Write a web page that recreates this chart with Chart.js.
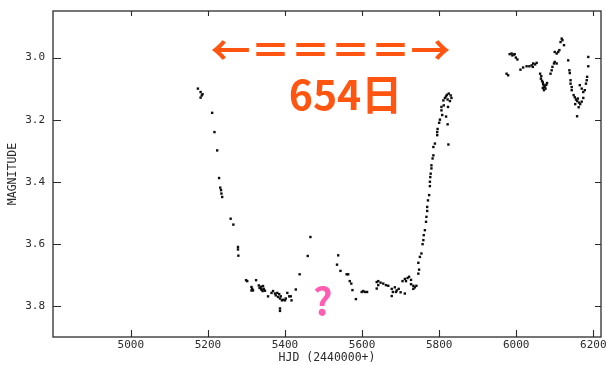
<!DOCTYPE html>
<html>
<head>
<meta charset="utf-8">
<script src="https://cdn.jsdelivr.net/npm/chart.js@4.4.1/dist/chart.umd.min.js"></script>
<style>
  html, body { margin: 0; padding: 0; background: #ffffff; }
  #wrap { width: 606px; height: 365px; }
</style>
</head>
<body>
<div id="wrap"><canvas id="lc" width="606" height="365"></canvas></div>
<script>
// Heliocentric Julian Date minus 2440000
const hjd = [
  5174, 5181, 5186, 5181, 5184,
  5211, 5217, 5224, 5229, 5232, 5234, 5235, 5237, 5259, 5266, 5278, 5278, 5279,
  5299, 5302, 5313, 5315, 5317, 5313, 5325,
  5332, 5334, 5338, 5340, 5343, 5345, 5348, 5342, 5338, 5356,
  5365, 5369, 5374, 5376, 5380, 5382, 5385, 5387, 5389, 5392, 5395, 5400, 5402, 5406, 5411, 5415, 5417,
  5387, 5387, 5428,
  5438, 5459, 5466,
  5538, 5535, 5544, 5560, 5564, 5568, 5572, 5575, 5584,
  5599, 5603, 5607, 5613,
  5638, 5642, 5648, 5655, 5662, 5668, 5638, 5642,
  5677, 5685, 5690, 5695, 5680, 5677, 5688, 5700, 5711,
  5705, 5711, 5718, 5722, 5714, 5727, 5733, 5737, 5733, 5741, 5727,
  5746, 5748, 5746, 5750, 5754, 5757, 5759, 5760, 5763, 5766, 5767, 5769, 5769, 5771, 5774,
  5776, 5776, 5777, 5778, 5780, 5780, 5783, 5785, 5785, 5789, 5795, 5795, 5796, 5824,
  5800, 5802, 5806, 5808, 5818, 5822, 5806, 5812, 5823, 5811, 5815, 5820, 5825, 5830, 5832, 5828, 5818, 5822,
  5975, 5979, 5983, 5990, 5996, 5999, 6003, 5988, 5994,
  6011, 6018, 6027, 6034, 6040, 6044, 6049, 6053, 6043,
  6062, 6065, 6064, 6067, 6069, 6070, 6072, 6074, 6069, 6076, 6072, 6078, 6080,
  6089, 6092, 6094, 6098, 6100, 6105,
  6100, 6105, 6109, 6112, 6115, 6118, 6120, 6124,
  6135, 6138, 6139, 6141, 6141, 6144, 6144,
  6149, 6152, 6155, 6158, 6160, 6163, 6166, 6170, 6174, 6153, 6162, 6158,
  6165, 6170, 6174, 6178, 6181, 6183, 6184, 6187, 6187
];

// V magnitude for each date above
const mag = [
  3.100, 3.111, 3.118, 3.129, 3.122,
  3.178, 3.240, 3.299, 3.388, 3.419, 3.427, 3.438, 3.449, 3.519, 3.538, 3.610, 3.618, 3.638,
  3.717, 3.720, 3.739, 3.745, 3.750, 3.750, 3.717,
  3.734, 3.742, 3.738, 3.748, 3.736, 3.745, 3.751, 3.752, 3.746, 3.769,
  3.758, 3.752, 3.760, 3.766, 3.758, 3.771, 3.762, 3.776, 3.769, 3.782, 3.780, 3.782, 3.776, 3.758, 3.769, 3.769, 3.782,
  3.808, 3.816, 3.747,
  3.698, 3.639, 3.578,
  3.637, 3.667, 3.687, 3.698, 3.698, 3.720, 3.728, 3.749, 3.778,
  3.755, 3.752, 3.755, 3.755,
  3.723, 3.720, 3.725, 3.728, 3.733, 3.735, 3.744, 3.733,
  3.745, 3.740, 3.750, 3.745, 3.755, 3.768, 3.755, 3.756, 3.760,
  3.720, 3.713, 3.710, 3.706, 3.720, 3.716, 3.735, 3.740, 3.745, 3.735, 3.730,
  3.696, 3.683, 3.661, 3.642, 3.631, 3.601, 3.588, 3.572, 3.556, 3.529, 3.513, 3.494, 3.481, 3.460, 3.443,
  3.414, 3.400, 3.385, 3.374, 3.357, 3.347, 3.325, 3.315, 3.288, 3.277, 3.250, 3.240, 3.230, 3.280,
  3.210, 3.200, 3.170, 3.185, 3.190, 3.215, 3.159, 3.154, 3.159, 3.138, 3.130, 3.120, 3.116, 3.122, 3.130, 3.140, 3.125, 3.135,
  3.052, 3.057, 2.989, 2.993, 2.989, 3.000, 3.006, 2.987, 2.990,
  3.039, 3.032, 3.028, 3.028, 3.025, 3.019, 3.022, 3.017, 3.030,
  3.052, 3.060, 3.068, 3.075, 3.080, 3.086, 3.090, 3.095, 3.098, 3.100, 3.105, 3.088, 3.082,
  3.052, 3.041, 3.030, 3.019, 3.014, 3.019,
  2.982, 2.987, 2.982, 2.976, 2.950, 2.939, 2.944, 2.960,
  3.009, 3.041, 3.050, 3.073, 3.084, 3.095, 3.105,
  3.121, 3.128, 3.135, 3.140, 3.132, 3.145, 3.150, 3.142, 3.130, 3.150, 3.160, 3.189,
  3.089, 3.100, 3.111, 3.105, 3.084, 3.073, 3.062, 2.998, 3.028
];

const xTicks = [5000, 5200, 5400, 5600, 5800, 6000, 6200];
const yTicks = [3.0, 3.2, 3.4, 3.6, 3.8];

const xTitle = 'HJD (2440000+)';
const yTitle = 'MAGNITUDE';

// Annotation texts and the data positions they sit at
const spanArrow = '←＝＝＝＝→';
const spanArrowAt = [5518, 2.975];
const spanLabel = '654日';
const spanLabelAt = [5557, 3.118];
const gapMark = '?';
const gapMarkAt = [5498, 3.785];

const points = hjd.map((d, i) => ({ x: d, y: mag[i] }));

const monoFont = '"DejaVu Sans Mono", "Liberation Mono", monospace';
const inkColor = '#2b2b2b';

// Frame on all four sides, inward tick marks, and text annotations
const framePlugin = {
  id: 'framePlugin',
  afterDatasetsDraw(chart) {
    const { ctx, chartArea: a, scales: { x, y } } = chart;
    ctx.save();
    ctx.strokeStyle = inkColor;
    ctx.lineWidth = 1.3;
    ctx.strokeRect(a.left, a.top, a.right - a.left, a.bottom - a.top);
    ctx.lineWidth = 1.1;
    ctx.beginPath();
    x.ticks.forEach(t => {
      const px = Math.round(x.getPixelForValue(t.value)) + 0.5;
      ctx.moveTo(px, a.bottom); ctx.lineTo(px, a.bottom - 7);
      ctx.moveTo(px, a.top); ctx.lineTo(px, a.top + 5);
    });
    y.ticks.forEach(t => {
      const py = Math.round(y.getPixelForValue(t.value)) + 0.5;
      ctx.moveTo(a.left, py); ctx.lineTo(a.left + 8, py);
      ctx.moveTo(a.right, py); ctx.lineTo(a.right - 6, py);
    });
    ctx.stroke();

    ctx.textAlign = 'center';
    ctx.textBaseline = 'middle';
    ctx.fillStyle = '#ff5511';
    ctx.font = 'bold 40px "Noto Sans CJK JP"';
    ctx.fillText(spanArrow, x.getPixelForValue(spanArrowAt[0]), y.getPixelForValue(spanArrowAt[1]));
    ctx.font = 'bold 41px "Noto Sans CJK JP"';
    ctx.fillText(spanLabel, x.getPixelForValue(spanLabelAt[0]), y.getPixelForValue(spanLabelAt[1]));
    ctx.fillStyle = '#ff5cb2';
    ctx.font = 'bold 38px "Noto Sans CJK JP"';
    ctx.fillText(gapMark, x.getPixelForValue(gapMarkAt[0]), y.getPixelForValue(gapMarkAt[1]));
    ctx.restore();
  }
};

new Chart(document.getElementById('lc'), {
  type: 'scatter',
  data: {
    datasets: [{
      data: points,
      pointStyle: 'rect',
      pointRadius: 1.7,
      pointBorderWidth: 0,
      backgroundColor: '#0d0d0d',
      borderColor: '#0d0d0d'
    }]
  },
  options: {
    responsive: false,
    animation: false,
    devicePixelRatio: 1,
    layout: { padding: { top: 11, right: 5, left: 0, bottom: 0 } },
    plugins: {
      legend: { display: false },
      tooltip: { enabled: false }
    },
    scales: {
      x: {
        type: 'linear',
        min: 4798,
        max: 6220,
        afterBuildTicks: s => { s.ticks = xTicks.map(v => ({ value: v })); },
        afterFit: s => { s.height = 28; s.paddingLeft = 0; s.paddingRight = 0; },
        grid: { display: false, drawTicks: false },
        border: { display: false },
        ticks: {
          padding: 2,
          color: inkColor,
          font: { family: monoFont, size: 11 },
          callback: v => String(v)
        },
        title: {
          display: true,
          text: xTitle,
          color: inkColor,
          padding: { top: 0, bottom: 0 },
          font: { family: monoFont, size: 11.5 }
        }
      },
      y: {
        type: 'linear',
        reverse: true,
        min: 2.85,
        max: 3.90,
        afterBuildTicks: s => { s.ticks = yTicks.map(v => ({ value: v })); },
        afterFit: s => { s.width = 53; s.paddingTop = 0; s.paddingBottom = 0; },
        grid: { display: false, drawTicks: false },
        border: { display: false },
        ticks: {
          padding: 8,
          color: inkColor,
          font: { family: monoFont, size: 11 },
          callback: v => Number(v).toFixed(1)
        },
        title: {
          display: true,
          text: yTitle,
          color: inkColor,
          padding: { top: 6, bottom: 0 },
          font: { family: monoFont, size: 11.5 }
        }
      }
    }
  },
  plugins: [framePlugin]
});
</script>
</body>
</html>
